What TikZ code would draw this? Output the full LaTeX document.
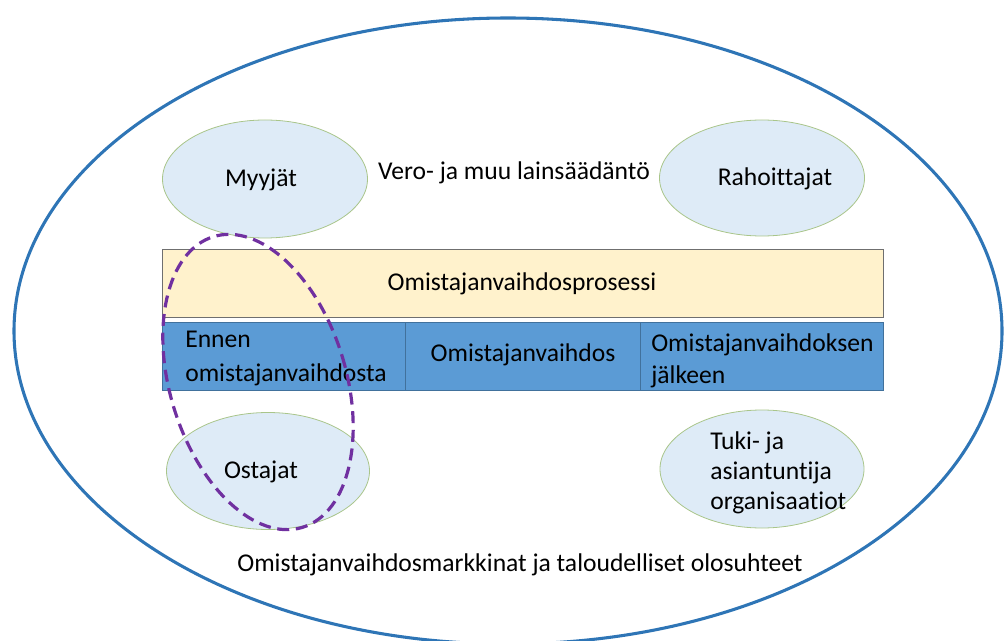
\documentclass[tikz,border=0pt]{standalone}
\usepackage{fontspec}
\setmainfont{Carlito}[RawFeature={-liga;-dlig}]
\usetikzlibrary{shapes.geometric}
\definecolor{outerblue}{HTML}{2E75B6}
\definecolor{actfill}{HTML}{DEEBF7}
\definecolor{actline}{HTML}{A9C58A}
\definecolor{procfill}{HTML}{FFF2CC}
\definecolor{procline}{HTML}{6F6F6F}
\definecolor{phasefill}{HTML}{5B9BD5}
\definecolor{phaseline}{HTML}{41719C}
\definecolor{dashpurple}{HTML}{7030A0}
\tikzset{
  txt/.style={font=\fontsize{19.2}{24}\selectfont, text=black, inner sep=0pt},
  actor/.style={ellipse, draw=actline, line width=0.6pt, fill=actfill, inner sep=0pt},
  procbar/.style={draw=procline, line width=0.6pt, fill=procfill},
  phase/.style={draw=phaseline, line width=0.6pt, fill=phasefill},
}
\begin{document}
\begin{tikzpicture}[x=0.75pt,y=-0.75pt]
\useasboundingbox (0,0) rectangle (1005,641);
% outer environment ellipse
\draw[outerblue, line width=2.3pt] (508,331) ellipse [x radius=494, y radius=313];
% actors
\node[actor, minimum width=205*0.75pt, minimum height=118*0.75pt] (myy) at (265,179) {};
\node[actor, minimum width=205*0.75pt, minimum height=116*0.75pt] (rah) at (762,178) {};
\node[actor, minimum width=203*0.75pt, minimum height=117*0.75pt] (ost) at (268,471) {};
\node[actor, minimum width=204*0.75pt, minimum height=118*0.75pt] (tuk) at (762,469) {};
\node[txt] at (261,180) {Myyjät};
\node[txt] at (775,179) {Rahoittajat};
\node[txt] at (261,472) {Ostajat};
\node[txt, align=left, anchor=north west, font=\fontsize{19.2}{22.5}\selectfont] (tuktxt) at (710,431) {Tuki- ja\\asiantuntija\\organisaatiot};
\node[txt] (law) at (514,173) {Vero- ja muu lainsäädäntö};
% process bar
\draw[procbar] (162,249) rectangle (883,317);
\node[txt] (proc) at (522,284) {Omistajanvaihdosprosessi};
% phases
\draw[phase] (162,322) rectangle (405,390);
\draw[phase] (405,322) rectangle (640,390);
\draw[phase] (640,322) rectangle (883,390);
\node[txt, align=left, anchor=north west, font=\fontsize{19.2}{25}\selectfont] (p1) at (185,331) {Ennen\\omistajanvaihdosta};
\node[txt] (p2) at (523,355) {Omistajanvaihdos};
\node[txt, align=left, anchor=north west, font=\fontsize{19.2}{24}\selectfont] (p3) at (651,333) {Omistajanvaihdoksen\\jälkeen};
% market text
\node[txt] (mkt) at (520,565) {Omistajanvaihdosmarkkinat ja taloudelliset olosuhteet};
% dashed buyer-seller ellipse
\draw[dashpurple, line width=2.4pt, dash pattern=on 9pt off 5pt, rotate around={17:(258,382)}] (258,382) ellipse [x radius=88, y radius=152];
\end{tikzpicture}
\end{document}
